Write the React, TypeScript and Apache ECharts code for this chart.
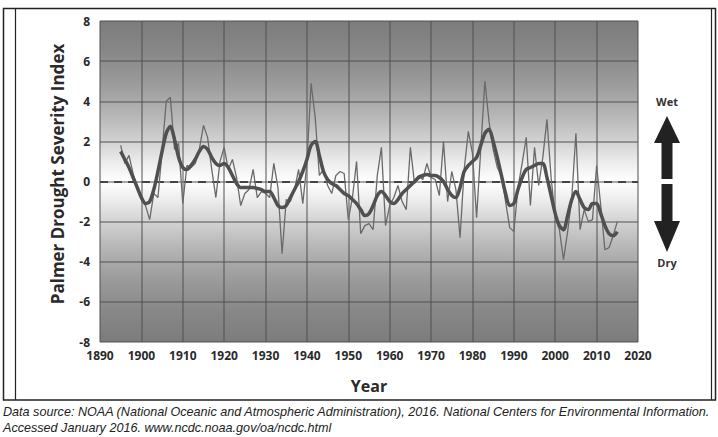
import React, { useEffect, useRef } from "react";
import * as echarts from "echarts";

const startYear = 1895;
const annualPdsi = [
  1.8, 0.9, 1.3, 0.4, -0.4, -0.9, -1.2, -1.9, -0.6, -0.8,
  1.5, 4.0, 4.2, 1.6, 1.9, -1.1, 0.8, 0.7, 0.9, 1.6,
  2.8, 2.2, 0.6, -0.8, 1.0, 1.7, 0.6, 1.1, 0.2, -1.2,
  -0.6, -0.4, 0.6, -0.8, -0.5, -0.6, -0.8, 0.9, -0.3, -3.6,
  -0.9, -1.0, -0.4, 0.6, -1.1, 0.9, 4.9, 3.2, 0.3, 0.6,
  -0.2, -0.6, 0.3, 0.5, 0.4, -1.9, -0.8, 1.0, -2.6, -2.2,
  -2.1, -2.4, 0.3, 1.7, -2.2, -1.2, -0.8, -0.2, -1.0, -1.4,
  1.7, -0.1, 0.3, 0.1, 0.9, 0.2, 0.1, -0.7, 2.0, -1.0,
  0.5, -0.4, -2.8, 0.6, 2.5, 1.4, -1.8, 1.6, 5.0, 3.0,
  1.6, 0.7, 0.3, -1.0, -2.3, -2.5, -0.3, 0.9, 2.2, -1.2,
  1.7, -0.2, 1.2, 3.1, 0.2, -1.8, -2.4, -3.9, -2.5, -0.8,
  2.4, -2.4, -1.4, -2.0, -1.9, 0.8, -1.2, -3.4, -3.3, -2.7,
  -2.0,
];
const smoothedPdsi = [
  1.5, 1.1, 0.7, 0.2, -0.3, -0.8, -1.1, -1.0, -0.4, 0.5,
  1.5, 2.4, 2.75, 2.1, 1.2, 0.7, 0.6, 0.8, 1.1, 1.5,
  1.75, 1.6, 1.2, 0.9, 0.8, 0.9, 0.7, 0.3, -0.1, -0.3,
  -0.3, -0.3, -0.3, -0.35, -0.4, -0.5, -0.5, -0.8, -1.2, -1.3,
  -1.2, -0.8, -0.4, 0.0, 0.5, 1.1, 1.8, 2.0, 1.3, 0.5,
  0.1, -0.1, -0.2, -0.4, -0.6, -0.7, -0.9, -1.1, -1.4, -1.7,
  -1.6, -1.2, -0.7, -0.5, -0.7, -1.0, -1.1, -0.9, -0.6, -0.4,
  -0.2, 0.0, 0.2, 0.3, 0.35, 0.3, 0.3, 0.2, 0.0, -0.4,
  -0.7, -0.8, -0.3, 0.5, 0.8, 1.0, 1.2, 1.8, 2.4, 2.6,
  2.0, 1.2, 0.3, -0.6, -1.2, -1.1, -0.4, 0.2, 0.6, 0.7,
  0.8, 0.9, 0.9, 0.2, -0.7, -1.6, -2.2, -2.4, -1.7, -0.9,
  -0.5, -0.9, -1.3, -1.4, -1.1, -1.1, -1.6, -2.2, -2.6, -2.7,
  -2.5,
];
const xTicks = [1890, 1900, 1910, 1920, 1930, 1940, 1950, 1960, 1970, 1980, 1990, 2000, 2010, 2020];
const yTicks = [-8, -6, -4, -2, 0, 2, 4, 6, 8];
const yAxisTitle = "Palmer Drought Severity Index";
const xAxisTitle = "Year";
const wetLabel = "Wet";
const dryLabel = "Dry";
const sourceLine1 =
  "Data source: NOAA (National Oceanic and Atmospheric Administration), 2016. National Centers for Environmental Information.";
const sourceLine2 = "Accessed January 2016. www.ncdc.noaa.gov/oa/ncdc.html";

const FONT = "'Open Sans', 'Noto Sans', sans-serif";

export default function App() {
  const ref = useRef<HTMLDivElement>(null);
  useEffect(() => {
    if (!ref.current) return;
    const chart = echarts.init(ref.current, undefined, { renderer: "svg" });
    const annual = annualPdsi.map((v, i) => [startYear + i, v]);
    const smooth = smoothedPdsi.map((v, i) => [startYear + i, v]);
    const ax = 667;
    chart.setOption({
      animation: false,
      backgroundColor: "#ffffff",
      grid: {
        left: 100,
        right: 80,
        top: 21,
        bottom: 95,
        show: true,
        borderWidth: 0,
        backgroundColor: new echarts.graphic.LinearGradient(0, 0, 0, 1, [
          { offset: 0, color: "#7c7c7c" },
          { offset: 0.1, color: "#888888" },
          { offset: 0.2, color: "#9c9c9c" },
          { offset: 0.3, color: "#b8b8b8" },
          { offset: 0.38, color: "#d4d4d4" },
          { offset: 0.44, color: "#ececec" },
          { offset: 0.5, color: "#ffffff" },
          { offset: 0.56, color: "#ececec" },
          { offset: 0.62, color: "#d4d4d4" },
          { offset: 0.7, color: "#b8b8b8" },
          { offset: 0.8, color: "#9c9c9c" },
          { offset: 0.9, color: "#888888" },
          { offset: 1, color: "#7c7c7c" },
        ]),
      },
      xAxis: {
        type: "value",
        min: xTicks[0],
        max: xTicks[xTicks.length - 1],
        interval: 10,
        axisLine: { show: false },
        axisTick: { show: false },
        axisLabel: {
          color: "#2a2a2a",
          fontFamily: FONT,
          fontWeight: "bold",
          fontSize: 12,
          margin: 7,
          formatter: (v: number) => String(v),
        },
        splitLine: { show: true, lineStyle: { color: "rgba(80,80,80,0.5)", width: 2 } },
      },
      yAxis: {
        type: "value",
        min: yTicks[0],
        max: yTicks[yTicks.length - 1],
        interval: 2,
        axisLine: { show: false },
        axisTick: { show: false },
        axisLabel: {
          color: "#2a2a2a",
          fontFamily: FONT,
          fontWeight: "bold",
          fontSize: 12,
          margin: 10,
        },
        splitLine: { show: true, lineStyle: { color: "rgba(80,80,80,0.5)", width: 2 } },
      },
      series: [
        {
          type: "line",
          data: annual,
          symbol: "none",
          lineStyle: { color: "#6a6a6a", width: 1.3 },
          z: 3,
        },
        {
          type: "line",
          data: smooth,
          symbol: "none",
          smooth: 0.3,
          lineStyle: { color: "#505050", width: 3.5 },
          z: 4,
          markLine: {
            silent: true,
            symbol: "none",
            label: { show: false },
            lineStyle: { color: "#444", type: [8, 6], width: 2 },
            data: [{ yAxis: 0 }],
            z: 2,
          },
        },
      ],
      graphic: [
        {
          type: "rect",
          shape: { x: 3.5, y: 8.5, width: 712, height: 391.5 },
          style: { fill: "none", stroke: "#222", lineWidth: 1.5 },
        },
        {
          type: "line",
          shape: { x1: 15.5, y1: 8.5, x2: 15.5, y2: 400 },
          style: { stroke: "#222", lineWidth: 1.2 },
        },
        {
          type: "line",
          shape: { x1: 711.5, y1: 8.5, x2: 711.5, y2: 400 },
          style: { stroke: "#222", lineWidth: 1.2 },
        },
        {
          type: "text",
          x: 57,
          y: 174,
          rotation: Math.PI / 2,
          style: {
            text: yAxisTitle,
            fontFamily: FONT,
            fontWeight: "bold",
            fontSize: 17,
            fill: "#2a2a2a",
            align: "center",
            verticalAlign: "middle",
          },
        },
        {
          type: "text",
          x: 369,
          y: 386,
          style: {
            text: xAxisTitle,
            fontFamily: FONT,
            fontWeight: "bold",
            fontSize: 16,
            fill: "#2a2a2a",
            align: "center",
            verticalAlign: "middle",
          },
        },
        {
          type: "text",
          x: ax,
          y: 101,
          style: {
            text: wetLabel,
            fontFamily: FONT,
            fontWeight: "bold",
            fontSize: 11,
            fill: "#333",
            align: "center",
            verticalAlign: "middle",
          },
        },
        {
          type: "text",
          x: ax,
          y: 262,
          style: {
            text: dryLabel,
            fontFamily: FONT,
            fontWeight: "bold",
            fontSize: 11,
            fill: "#333",
            align: "center",
            verticalAlign: "middle",
          },
        },
        {
          type: "polygon",
          shape: {
            points: [
              [ax, 116],
              [ax + 13, 143],
              [ax + 5.5, 143],
              [ax + 5.5, 179],
              [ax - 5.5, 179],
              [ax - 5.5, 143],
              [ax - 13, 143],
            ],
          },
          style: { fill: "#222" },
        },
        {
          type: "polygon",
          shape: {
            points: [
              [ax - 5.5, 184],
              [ax + 5.5, 184],
              [ax + 5.5, 221],
              [ax + 13, 221],
              [ax, 252],
              [ax - 13, 221],
              [ax - 5.5, 221],
            ],
          },
          style: { fill: "#222" },
        },
        {
          type: "text",
          x: 3,
          y: 412,
          style: {
            text: sourceLine1,
            fontFamily: "'Liberation Sans', Arial, sans-serif",
            fontStyle: "italic",
            fontSize: 12.6,
            fill: "#222",
            align: "left",
            verticalAlign: "middle",
          },
        },
        {
          type: "text",
          x: 3,
          y: 428,
          style: {
            text: sourceLine2,
            fontFamily: "'Liberation Sans', Arial, sans-serif",
            fontStyle: "italic",
            fontSize: 12.6,
            fill: "#222",
            align: "left",
            verticalAlign: "middle",
          },
        },
      ],
    });
    return () => chart.dispose();
  }, []);
  return <div ref={ref} style={{ width: 718, height: 437, position: "fixed", left: 0, top: 0 }} />;
}
